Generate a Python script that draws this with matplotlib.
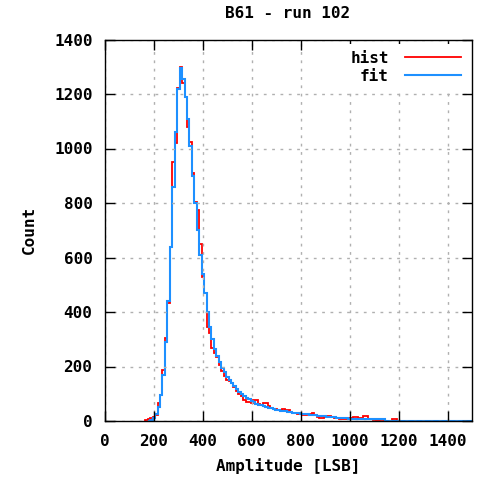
import numpy as np
import matplotlib
matplotlib.use('Agg')
import matplotlib.pyplot as plt

# histogram bins: 10 LSB wide, first bin starts at 165 LSB
bin_start = 165
bin_width = 10

hist_counts = [
    2, 6, 12, 16, 22, 66, 95, 187, 304, 433,
    638, 950, 1020, 1222, 1298, 1240, 1190, 1079, 1024, 909,
    804, 774, 650, 529, 470, 346, 323, 268, 250, 236,
    205, 185, 165, 152, 145, 141, 125, 110, 100, 90,
    77, 71, 68, 65, 77, 77, 62, 59, 65, 67,
    55, 47, 44, 44, 42, 42, 44, 39, 39, 34,
    30, 28, 26, 25, 22, 22, 24, 26, 28, 22,
    15, 10, 10, 14, 18, 18, 16, 10, 10, 7,
    7, 7, 8, 12, 12, 16, 14, 12, 12, 19,
    19, 7, 6, 5, 5, 4, 3, 2, 1, 0,
    0, 9, 9,
] + [0] * 31

fit_counts = [
    0, 1, 5, 12, 25, 50, 95, 170, 290, 440,
    640, 860, 1060, 1220, 1295, 1255, 1190, 1110, 1010, 900,
    800, 700, 610, 540, 470, 400, 345, 300, 265, 240,
    215, 195, 178, 163, 150, 138, 127, 117, 108, 100,
    92, 85, 79, 73, 68, 64, 60, 57, 54, 51,
    48, 46, 44, 42, 40, 38, 36, 35, 33, 32,
    30, 29, 28, 27, 26, 25, 24, 23, 22, 21,
    20, 19, 18, 17, 16, 15, 14, 13, 12, 11,
    11, 10, 10, 9, 9, 9, 8, 8, 8, 7,
    7, 7, 7, 6, 6, 6, 6, 6, 0, 0,
    0, 0, 0,
] + [0] * 31

edges = bin_start + bin_width * np.arange(len(hist_counts) + 1)

plt.rcParams['font.family'] = 'DejaVu Sans Mono'
plt.rcParams['font.weight'] = 'bold'

fig = plt.figure(figsize=(4.86, 4.80), dpi=100)
ax = fig.add_axes([105 / 486, 59 / 480, 367 / 486, 381.5 / 480])

ax.stairs(hist_counts, edges, color='#ff0000', linewidth=1.3, label='hist')
ax.stairs(fit_counts[1:], edges[1:], color='#1e90ff', linewidth=1.5, label='fit')

ax.set_xlim(0, 1500)
ax.set_ylim(0, 1400)
ax.set_xticks(np.arange(0, 1401, 200))
ax.set_yticks(np.arange(0, 1401, 200))
ax.grid(True, color='#b0b0b0', linestyle=(0, (2, 4)), linewidth=1)
ax.tick_params(direction='in', length=7, width=1, top=True, right=True,
               labelsize=11.5, pad=9)
for s in ax.spines.values():
    s.set_linewidth(1)

ax.set_xlabel('Amplitude [LSB]', fontsize=11.5, fontweight='bold', labelpad=7)
ax.set_ylabel('Count', fontsize=11.5, fontweight='bold', labelpad=12)
fig.text(288 / 486, 1 - 13 / 480, 'B61 - run 102', ha='center', va='center',
         fontsize=11.5, fontweight='bold')

leg = ax.legend(loc='upper right', markerfirst=False, frameon=True,
                fontsize=11.5, handlelength=3.5, borderaxespad=0.3,
                labelspacing=0.2, handletextpad=1.0)
leg.get_frame().set_facecolor('white')
leg.get_frame().set_edgecolor('none')
leg.get_frame().set_alpha(1)
for t in leg.get_texts():
    t.set_ha('right')

fig.savefig('out.png', dpi=100)
